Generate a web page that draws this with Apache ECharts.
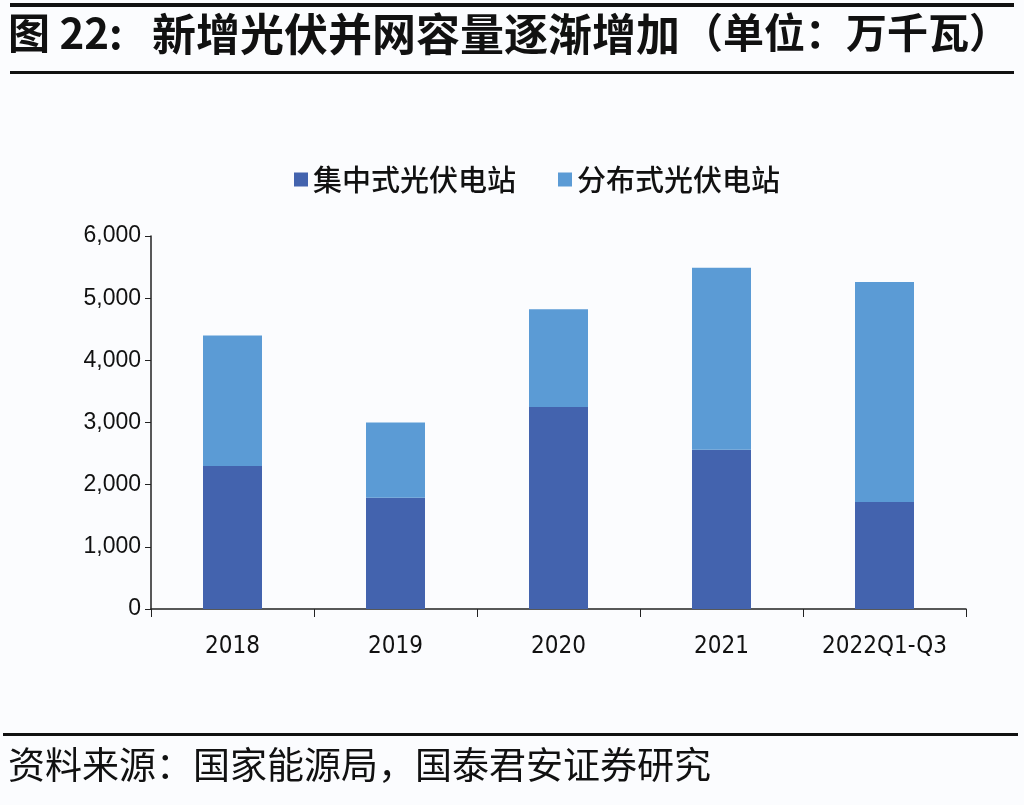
<!DOCTYPE html>
<html><head><meta charset="utf-8">
<script src="https://cdn.jsdelivr.net/npm/echarts@6/dist/echarts.min.js"></script>
<style>html,body{margin:0;padding:0;background:#fbfcfe;}#c{width:1024px;height:805px;}</style>
</head><body><div id="c"></div>
<script>
const categories = ['2018','2019','2020','2021','2022Q1-Q3'];
const centralized = [2300, 1790, 3250, 2560, 1720];
const distributed = [2100, 1210, 1570, 2930, 3540];
const yTicks = [0, 1000, 2000, 3000, 4000, 5000, 6000];
const seriesNames = ['集中式光伏电站', '分布式光伏电站'];

const chart = echarts.init(document.getElementById('c'));
chart.setOption({
  backgroundColor: '#fbfcfe',
  animation: false,
  graphic: [
    {type:'rect', shape:{x:10,y:3,width:1004,height:4}, style:{fill:'#111'}},
    {type:'text', left:8, top:12, style:{text:'图 22:', font:'bold 42px "Noto Sans CJK SC"', fill:'#111'}},
    {type:'text', left:152, top:12, style:{text:'新增光伏并网容量逐渐增加', font:'bold 44px "Noto Sans CJK SC"', fill:'#111'}},
    {type:'text', left:682, top:12, style:{text:'（单位：万千瓦）', font:'bold 41px "Noto Sans CJK SC"', fill:'#111'}},
    {type:'rect', shape:{x:10,y:71,width:1004,height:3}, style:{fill:'#111'}},
    {type:'rect', shape:{x:3,y:733,width:1015,height:3}, style:{fill:'#111'}},
    {type:'text', left:8, top:746, style:{text:'资料来源：国家能源局，国泰君安证券研究', font:'37px "Noto Sans CJK SC"', fill:'#111'}}
  ],
  legend: {
    top: 160, left: 289,
    itemWidth: 14, itemHeight: 14, itemGap: 42,
    icon: 'rect',
    textStyle: {fontSize: 29, color: '#111', fontFamily: '"Noto Sans CJK SC"', fontWeight: 500},
    data: seriesNames
  },
  grid: {left: 151, right: 58, top: 236, bottom: 196},
  xAxis: {
    type: 'category', data: categories,
    axisLine: {lineStyle: {color: '#222', width: 1.5}},
    axisTick: {show: true, length: 8, lineStyle: {color: '#222'}},
    axisLabel: {interval: 0, fontSize: 24, color: '#111', margin: 26, fontFamily: '"Liberation Sans Narrow","DejaVu Sans Condensed",sans-serif'}
  },
  yAxis: {
    type: 'value', min: 0, max: 6000, interval: 1000,
    axisLine: {show: true, lineStyle: {color: '#222', width: 1.5}},
    axisTick: {show: true, length: 6, inside: false, lineStyle: {color: '#222'}},
    splitLine: {show: false},
    axisLabel: {fontSize: 23, color: '#111', margin: 10, fontFamily: '"Liberation Sans","DejaVu Sans",sans-serif',
      formatter: v => yTicks.includes(v) ? v.toLocaleString('en-US') : ''}
  },
  series: [
    {name: seriesNames[0], type: 'bar', stack: 's', data: centralized, barWidth: 59, itemStyle: {color: '#4363AE'}},
    {name: seriesNames[1], type: 'bar', stack: 's', data: distributed, barWidth: 59, itemStyle: {color: '#5B9BD5'}}
  ]
});
</script></body></html>
